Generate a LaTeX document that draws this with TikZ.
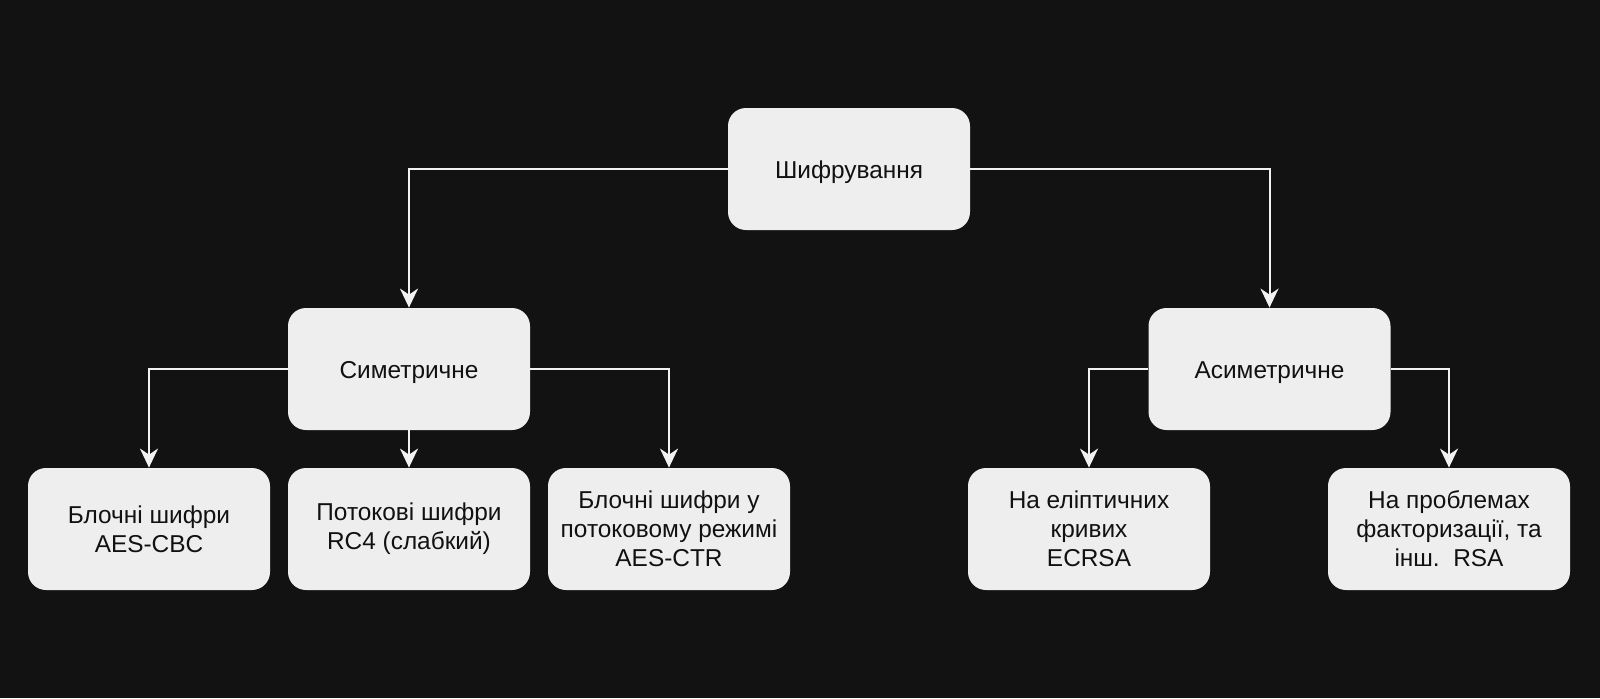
\documentclass[tikz,border=0pt]{standalone}
\usepackage{fontspec}
\setmainfont{Liberation Sans}
\usepackage{tikz}
\usetikzlibrary{arrows.meta}

\definecolor{bgdark}{HTML}{121212}
\definecolor{boxgray}{HTML}{EEEEEE}
\definecolor{textdark}{HTML}{111111}
\definecolor{linewhite}{HTML}{F2F2F2}

\tikzset{
    box/.style={fill=boxgray, rounded corners=9pt, minimum width=121pt, minimum height=61pt,
        inner sep=0pt, align=center, text=textdark, font=\fontsize{12.2}{14.5}\selectfont},
    oneline/.style={box, text height=10.5pt, text depth=1.3pt},
    link/.style={draw=linewhite, line width=1pt, -{Stealth[length=9.5pt, width=9pt, inset=3pt]}}
}

\begin{document}
\begin{tikzpicture}[x=0.5pt, y=-0.5pt]
    % Background
    \fill[bgdark] (0, 0) rectangle (1600, 698);
    \useasboundingbox (0, 0) rectangle (1600, 698);

    % Root
    \node[oneline] (enc) at (849, 169) {Шифрування};

    % Second level
    \node[oneline] (sym) at (409, 369) {Симетричне};
    \node[oneline] (asym) at (1269.5, 369) {Асиметричне};

    % Symmetric ciphers
    \node[box] (block) at (149, 529) {Блочні шифри\\AES-CBC};
    \node[box] (stream) at (409, 529) {Потокові шифри\\RC4 (слабкий)};
    \node[box] (ctr) at (669, 529) {Блочні шифри у\\потоковому режимі\\AES-CTR};

    % Asymmetric ciphers
    \node[box] (ecc) at (1089, 529) {На еліптичних\\кривих\\ECRSA};
    \node[box] (fact) at (1449, 529) {На проблемах\\факторизації, та\\інш.\ \ RSA};

    % Connectors
    \draw[link] (enc.west) -| (sym.north);
    \draw[link] (enc.east) -| (asym.north);
    \draw[link] (sym.west) -| (block.north);
    \draw[link] (sym.south) -- (stream.north);
    \draw[link] (sym.east) -| (ctr.north);
    \draw[link] (asym.west) -| (ecc.north);
    \draw[link] (asym.east) -| (fact.north);
\end{tikzpicture}
\end{document}
